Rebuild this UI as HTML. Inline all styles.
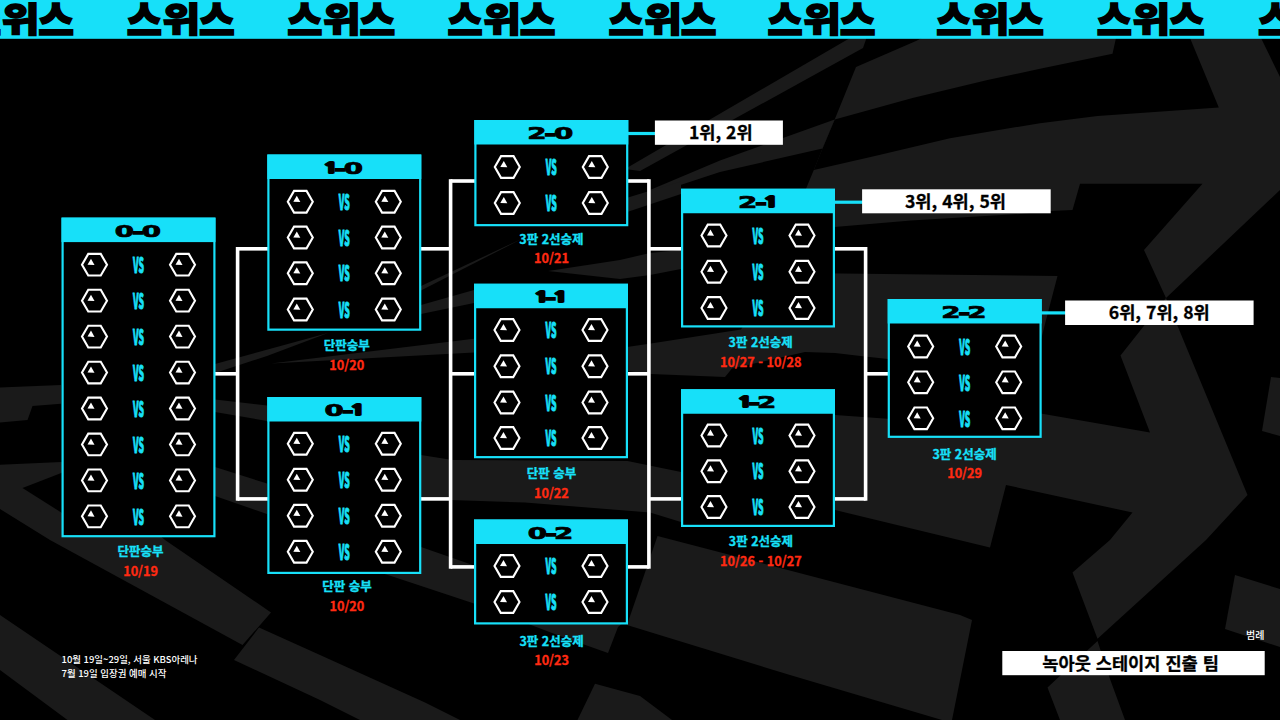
<!DOCTYPE html>
<html lang="ko"><head><meta charset="utf-8"><title>스위스</title>
<style>
html,body{margin:0;padding:0;background:#000;}
body{width:1280px;height:720px;overflow:hidden;position:relative;}
svg{position:absolute;left:0;top:0;display:block;}
.ttl{font-family:"DejaVu Sans","Liberation Sans",sans-serif;font-weight:bold;font-size:16.2px;fill:#000;stroke:#000;stroke-width:1px;stroke-linejoin:round;vector-effect:non-scaling-stroke;}
.ttl tspan{vector-effect:non-scaling-stroke;}
.ttl .hy{stroke-width:1.8px;stroke-linejoin:miter;}
.ttl .one{font-family:"NanumGothic","DejaVu Sans","Liberation Sans",sans-serif;font-weight:800;font-size:13.7px;stroke-width:2.9px;stroke-linejoin:miter;}
.vs{font-family:"Noto Sans CJK KR","Liberation Sans",sans-serif;font-weight:900;font-size:20.6px;fill:#17e0f9;stroke:#17e0f9;stroke-width:0.7px;vector-effect:non-scaling-stroke;}
.cap{font-family:"Noto Sans CJK KR","Liberation Sans",sans-serif;font-weight:700;font-size:12.5px;fill:#17e0f9;stroke:#17e0f9;stroke-width:0.3px;}
.date{font-family:"Noto Sans CJK KR","Liberation Sans",sans-serif;font-weight:700;font-size:12.7px;fill:#ff2a12;stroke:#ff2a12;stroke-width:0.3px;}
.lab{font-family:"Noto Sans CJK KR","Liberation Sans",sans-serif;font-weight:700;font-size:17.6px;fill:#000;stroke:#000;stroke-width:0.3px;}
.hdr text{vector-effect:non-scaling-stroke;}
.hdr{font-family:"Noto Sans CJK KR","Liberation Sans",sans-serif;font-weight:900;font-size:40px;fill:#000;stroke:#000;stroke-width:1.6px;}
.sm{font-family:"Noto Sans CJK KR","Liberation Sans",sans-serif;font-weight:500;font-size:9.45px;fill:#fff;}
</style></head><body>
<svg width="1280" height="720" viewBox="0 0 1280 720">
<rect width="1280" height="720" fill="#000"/>
<g id="bg"><polygon fill="#1a1a1a" points="856.0,67.0 916.0,41.0 922.0,38.0 1261.0,38.0 1280.0,77.0 1280.0,190.0 1166.0,298.0 1144.0,250.0 1202.5,183.8 1080.0,183.8 1072.5,210.0 1050.0,211.0 1020.0,214.0 911.0,220.6 834.4,227.0 790.0,232.0 806.0,188.8 813.8,170.0 822.5,148.5 834.7,119.4"/>
<polygon fill="#000" points="834.7,119.4 912.5,98.0 987.5,80.0 1040.0,68.8 1112.5,53.8 1116.0,38.0 1190.0,38.0 1218.8,107.5 1097.5,116.0 1040.0,123.2 950.0,138.2 875.0,156.0 813.8,170.0 822.5,148.5"/>
<polygon fill="#1a1a1a" points="834.7,119.4 822.5,148.5 720.0,172.0 650.0,195.0 650.0,190.0 720.0,160.5"/>
<polygon fill="#1a1a1a" points="625.0,169.0 850.0,38.0 866.5,38.0 863.0,48.0 640.0,171.0"/>
<polygon fill="#1a1a1a" points="628.0,197.5 628.0,211.7 651.0,204.0 681.0,194.0 681.0,181.5 651.0,190.5"/>
<polygon fill="#1a1a1a" points="1166.0,298.0 1120.5,355.5 1150.0,432.5 1035.0,412.5 1030.0,425.0 887.5,418.8 835.0,415.0 760.0,412.0 750.0,470.0 681.0,472.0 627.5,461.0 452.5,460.0 421.0,455.0 421.0,499.0 525.0,502.5 650.0,512.5 681.0,522.0 700.0,512.0 835.0,510.0 990.0,547.5 1006.0,485.0 1132.5,512.5 1110.0,540.0 1072.5,572.5 1097.5,638.8 1206.0,540.0 1247.5,495.0"/>
<polygon fill="#1a1a1a" points="1235.0,575.0 1280.0,589.0 1280.0,647.0 1225.0,629.0"/>
<polygon fill="#1a1a1a" points="1271.0,377.0 1280.0,378.0 1280.0,436.0 1262.0,431.0"/>
<polygon fill="#1a1a1a" points="1097.5,641.0 1047.5,687.5 1060.0,720.0 1125.0,720.0 1110.0,679.0"/>
<polygon fill="#1a1a1a" points="657.5,536.0 960.0,615.0 972.0,620.0 952.0,720.0 942.0,720.0 790.0,675.0 627.0,625.0"/>
<polygon fill="#1a1a1a" points="380.0,533.0 421.0,547.0 628.0,619.0 618.0,627.0 608.0,653.0 560.0,636.0 474.0,603.5 391.0,576.0 340.0,560.0"/>
<polygon fill="#1a1a1a" points="259.0,627.5 320.0,655.0 425.0,702.5 460.0,720.0 360.0,720.0 320.0,700.0 234.0,660.0"/>
<polygon fill="#1a1a1a" points="0.0,464.7 61.5,462.0 75.0,463.0 165.0,540.0 271.0,612.5 242.5,645.0 50.0,540.0 0.0,509.0"/>
<polygon fill="#000" points="22.5,488.0 100.0,458.0 100.0,537.0"/>
<polygon fill="#1a1a1a" points="0.0,615.0 155.0,720.0 67.5,720.0 0.0,670.0"/>
<polygon fill="#1a1a1a" points="595.0,683.8 640.0,696.0 672.0,720.0 577.5,720.0"/>
<polygon fill="#1a1a1a" points="522.5,238.5 421.0,286.0 421.0,290.5"/>
<polygon fill="#1a1a1a" points="421.0,305.0 474.0,290.0 474.0,303.0 421.0,314.0"/>
<polygon fill="#1a1a1a" points="548.0,271.0 620.0,260.0 650.0,253.0 681.0,250.0 800.0,231.0 834.4,227.0 760.0,255.0 681.0,269.0 650.0,275.0 620.0,279.0"/>
<polygon fill="#1a1a1a" points="627.0,347.0 651.0,343.4 741.0,329.4 760.0,300.0 790.0,273.0 840.0,273.5 1057.5,276.0 1046.0,320.0 1041.0,340.0 888.0,359.0 865.0,356.5 835.0,353.0 805.0,352.0 732.0,368.5 725.0,377.0 651.0,374.0 627.0,371.0"/>
<polygon fill="#1a1a1a" points="0.0,387.5 61.0,385.0 61.0,403.8 32.5,406.0 27.5,420.0 0.0,422.5"/>
<polygon fill="#1a1a1a" points="215.0,364.0 328.0,333.0 267.0,356.0 215.0,373.0"/>
<polygon fill="#1a1a1a" points="271.0,363.4 474.0,338.7 474.0,352.4"/>
<polygon fill="#1a1a1a" points="215.0,467.0 267.0,483.5 267.0,514.0 215.0,496.0"/>
<polygon fill="#1a1a1a" points="215.0,399.5 267.0,405.6 267.0,421.0 215.0,412.0"/></g>
<rect x="0" y="0" width="1280" height="38.8" fill="#17e0f9"/>
<g class="hdr"><text transform="translate(-33.93,35.20) scale(0.955,1.003)">스</text><text transform="translate(1.76,32.22) scale(1.026,0.856)">위</text><text transform="translate(38.25,35.20) scale(0.970,1.003)">스</text></g>
<g class="hdr"><text transform="translate(126.77,35.20) scale(0.955,1.003)">스</text><text transform="translate(162.46,32.22) scale(1.026,0.856)">위</text><text transform="translate(198.95,35.20) scale(0.970,1.003)">스</text></g>
<g class="hdr"><text transform="translate(287.27,35.20) scale(0.955,1.003)">스</text><text transform="translate(322.96,32.22) scale(1.026,0.856)">위</text><text transform="translate(359.45,35.20) scale(0.970,1.003)">스</text></g>
<g class="hdr"><text transform="translate(447.57,35.20) scale(0.955,1.003)">스</text><text transform="translate(483.26,32.22) scale(1.026,0.856)">위</text><text transform="translate(519.75,35.20) scale(0.970,1.003)">스</text></g>
<g class="hdr"><text transform="translate(608.57,35.20) scale(0.955,1.003)">스</text><text transform="translate(644.26,32.22) scale(1.026,0.856)">위</text><text transform="translate(680.75,35.20) scale(0.970,1.003)">스</text></g>
<g class="hdr"><text transform="translate(767.57,35.20) scale(0.955,1.003)">스</text><text transform="translate(803.26,32.22) scale(1.026,0.856)">위</text><text transform="translate(839.75,35.20) scale(0.970,1.003)">스</text></g>
<g class="hdr"><text transform="translate(936.17,35.20) scale(0.955,1.003)">스</text><text transform="translate(971.86,32.22) scale(1.026,0.856)">위</text><text transform="translate(1008.35,35.20) scale(0.970,1.003)">스</text></g>
<g class="hdr"><text transform="translate(1096.77,35.20) scale(0.955,1.003)">스</text><text transform="translate(1132.46,32.22) scale(1.026,0.856)">위</text><text transform="translate(1168.95,35.20) scale(0.970,1.003)">스</text></g>
<g class="hdr"><text transform="translate(1257.97,35.20) scale(0.955,1.003)">스</text><text transform="translate(1293.66,32.22) scale(1.026,0.856)">위</text><text transform="translate(1330.15,35.20) scale(0.970,1.003)">스</text></g>
<rect x="215.00" y="372.00" width="22.60" height="3.60" fill="#ffffff"/>
<rect x="235.80" y="247.00" width="3.60" height="253.70" fill="#ffffff"/>
<rect x="237.60" y="247.00" width="30.40" height="3.60" fill="#ffffff"/>
<rect x="237.60" y="497.10" width="30.40" height="3.60" fill="#ffffff"/>
<rect x="420.00" y="247.00" width="30.60" height="3.60" fill="#ffffff"/>
<rect x="420.00" y="497.10" width="30.60" height="3.60" fill="#ffffff"/>
<rect x="448.80" y="179.20" width="3.60" height="389.50" fill="#ffffff"/>
<rect x="450.60" y="179.20" width="24.40" height="3.60" fill="#ffffff"/>
<rect x="450.60" y="372.00" width="24.40" height="3.60" fill="#ffffff"/>
<rect x="450.60" y="565.10" width="24.40" height="3.60" fill="#ffffff"/>
<rect x="627.00" y="179.20" width="21.90" height="3.60" fill="#ffffff"/>
<rect x="627.00" y="372.00" width="21.90" height="3.60" fill="#ffffff"/>
<rect x="627.00" y="565.10" width="21.90" height="3.60" fill="#ffffff"/>
<rect x="647.10" y="179.20" width="3.60" height="389.50" fill="#ffffff"/>
<rect x="648.90" y="247.00" width="33.10" height="3.60" fill="#ffffff"/>
<rect x="648.90" y="497.10" width="33.10" height="3.60" fill="#ffffff"/>
<rect x="834.00" y="247.00" width="31.60" height="3.60" fill="#ffffff"/>
<rect x="834.00" y="497.10" width="31.60" height="3.60" fill="#ffffff"/>
<rect x="863.80" y="247.00" width="3.60" height="253.70" fill="#ffffff"/>
<rect x="865.60" y="372.00" width="22.90" height="3.60" fill="#ffffff"/>
<rect x="627.00" y="131.90" width="29.00" height="3.20" fill="#17e0f9"/>
<rect x="834.00" y="200.60" width="29.00" height="3.20" fill="#17e0f9"/>
<rect x="1041.00" y="311.30" width="25.00" height="3.20" fill="#17e0f9"/>
<rect x="62.60" y="218.70" width="151.80" height="317.50" fill="#000" stroke="#17e0f9" stroke-width="2.2"/>
<rect x="61.50" y="217.60" width="154.00" height="24.50" fill="#17e0f9"/>
<text class="ttl" transform="translate(0,236.60) scale(1.708,1)"><tspan x="67.22" y="0">0</tspan><tspan class="hy" x="77.46" y="0">-</tspan><tspan x="83.03" y="0">0</tspan></text>
<polygon points="107.00,264.70 100.75,275.53 88.25,275.53 82.00,264.70 88.25,253.87 100.75,253.87" fill="none" stroke="#fff" stroke-width="2.1"/>
<polygon points="91.00,258.70 87.50,264.70 94.50,265.00" fill="#fff"/>
<polygon points="195.00,264.70 188.75,275.53 176.25,275.53 170.00,264.70 176.25,253.87 188.75,253.87" fill="none" stroke="#fff" stroke-width="2.1"/>
<polygon points="179.00,258.70 175.50,264.70 182.50,265.00" fill="#fff"/>
<text class="vs" text-anchor="middle" transform="translate(138.50,272.90) scale(0.418,1)">VS</text>
<polygon points="107.00,300.65 100.75,311.48 88.25,311.48 82.00,300.65 88.25,289.82 100.75,289.82" fill="none" stroke="#fff" stroke-width="2.1"/>
<polygon points="91.00,294.65 87.50,300.65 94.50,300.95" fill="#fff"/>
<polygon points="195.00,300.65 188.75,311.48 176.25,311.48 170.00,300.65 176.25,289.82 188.75,289.82" fill="none" stroke="#fff" stroke-width="2.1"/>
<polygon points="179.00,294.65 175.50,300.65 182.50,300.95" fill="#fff"/>
<text class="vs" text-anchor="middle" transform="translate(138.50,308.85) scale(0.418,1)">VS</text>
<polygon points="107.00,336.60 100.75,347.43 88.25,347.43 82.00,336.60 88.25,325.77 100.75,325.77" fill="none" stroke="#fff" stroke-width="2.1"/>
<polygon points="91.00,330.60 87.50,336.60 94.50,336.90" fill="#fff"/>
<polygon points="195.00,336.60 188.75,347.43 176.25,347.43 170.00,336.60 176.25,325.77 188.75,325.77" fill="none" stroke="#fff" stroke-width="2.1"/>
<polygon points="179.00,330.60 175.50,336.60 182.50,336.90" fill="#fff"/>
<text class="vs" text-anchor="middle" transform="translate(138.50,344.80) scale(0.418,1)">VS</text>
<polygon points="107.00,372.55 100.75,383.38 88.25,383.38 82.00,372.55 88.25,361.72 100.75,361.72" fill="none" stroke="#fff" stroke-width="2.1"/>
<polygon points="91.00,366.55 87.50,372.55 94.50,372.85" fill="#fff"/>
<polygon points="195.00,372.55 188.75,383.38 176.25,383.38 170.00,372.55 176.25,361.72 188.75,361.72" fill="none" stroke="#fff" stroke-width="2.1"/>
<polygon points="179.00,366.55 175.50,372.55 182.50,372.85" fill="#fff"/>
<text class="vs" text-anchor="middle" transform="translate(138.50,380.75) scale(0.418,1)">VS</text>
<polygon points="107.00,408.50 100.75,419.33 88.25,419.33 82.00,408.50 88.25,397.67 100.75,397.67" fill="none" stroke="#fff" stroke-width="2.1"/>
<polygon points="91.00,402.50 87.50,408.50 94.50,408.80" fill="#fff"/>
<polygon points="195.00,408.50 188.75,419.33 176.25,419.33 170.00,408.50 176.25,397.67 188.75,397.67" fill="none" stroke="#fff" stroke-width="2.1"/>
<polygon points="179.00,402.50 175.50,408.50 182.50,408.80" fill="#fff"/>
<text class="vs" text-anchor="middle" transform="translate(138.50,416.70) scale(0.418,1)">VS</text>
<polygon points="107.00,444.45 100.75,455.28 88.25,455.28 82.00,444.45 88.25,433.62 100.75,433.62" fill="none" stroke="#fff" stroke-width="2.1"/>
<polygon points="91.00,438.45 87.50,444.45 94.50,444.75" fill="#fff"/>
<polygon points="195.00,444.45 188.75,455.28 176.25,455.28 170.00,444.45 176.25,433.62 188.75,433.62" fill="none" stroke="#fff" stroke-width="2.1"/>
<polygon points="179.00,438.45 175.50,444.45 182.50,444.75" fill="#fff"/>
<text class="vs" text-anchor="middle" transform="translate(138.50,452.65) scale(0.418,1)">VS</text>
<polygon points="107.00,480.40 100.75,491.23 88.25,491.23 82.00,480.40 88.25,469.57 100.75,469.57" fill="none" stroke="#fff" stroke-width="2.1"/>
<polygon points="91.00,474.40 87.50,480.40 94.50,480.70" fill="#fff"/>
<polygon points="195.00,480.40 188.75,491.23 176.25,491.23 170.00,480.40 176.25,469.57 188.75,469.57" fill="none" stroke="#fff" stroke-width="2.1"/>
<polygon points="179.00,474.40 175.50,480.40 182.50,480.70" fill="#fff"/>
<text class="vs" text-anchor="middle" transform="translate(138.50,488.60) scale(0.418,1)">VS</text>
<polygon points="107.00,516.35 100.75,527.18 88.25,527.18 82.00,516.35 88.25,505.52 100.75,505.52" fill="none" stroke="#fff" stroke-width="2.1"/>
<polygon points="91.00,510.35 87.50,516.35 94.50,516.65" fill="#fff"/>
<polygon points="195.00,516.35 188.75,527.18 176.25,527.18 170.00,516.35 176.25,505.52 188.75,505.52" fill="none" stroke="#fff" stroke-width="2.1"/>
<polygon points="179.00,510.35 175.50,516.35 182.50,516.65" fill="#fff"/>
<text class="vs" text-anchor="middle" transform="translate(138.50,524.55) scale(0.418,1)">VS</text>
<rect x="268.40" y="155.60" width="151.80" height="174.05" fill="#000" stroke="#17e0f9" stroke-width="2.2"/>
<rect x="267.30" y="154.50" width="154.00" height="24.50" fill="#17e0f9"/>
<text class="ttl" transform="translate(0,173.50) scale(1.708,1)"><tspan class="one" x="189.58" y="-0.8">1</tspan><tspan class="hy" x="195.67" y="0">-</tspan><tspan x="201.24" y="0">0</tspan></text>
<polygon points="312.80,201.75 306.55,212.58 294.05,212.58 287.80,201.75 294.05,190.92 306.55,190.92" fill="none" stroke="#fff" stroke-width="2.1"/>
<polygon points="296.80,195.75 293.30,201.75 300.30,202.05" fill="#fff"/>
<polygon points="400.80,201.75 394.55,212.58 382.05,212.58 375.80,201.75 382.05,190.92 394.55,190.92" fill="none" stroke="#fff" stroke-width="2.1"/>
<polygon points="384.80,195.75 381.30,201.75 388.30,202.05" fill="#fff"/>
<text class="vs" text-anchor="middle" transform="translate(344.30,209.95) scale(0.418,1)">VS</text>
<polygon points="312.80,237.50 306.55,248.33 294.05,248.33 287.80,237.50 294.05,226.67 306.55,226.67" fill="none" stroke="#fff" stroke-width="2.1"/>
<polygon points="296.80,231.50 293.30,237.50 300.30,237.80" fill="#fff"/>
<polygon points="400.80,237.50 394.55,248.33 382.05,248.33 375.80,237.50 382.05,226.67 394.55,226.67" fill="none" stroke="#fff" stroke-width="2.1"/>
<polygon points="384.80,231.50 381.30,237.50 388.30,237.80" fill="#fff"/>
<text class="vs" text-anchor="middle" transform="translate(344.30,245.70) scale(0.418,1)">VS</text>
<polygon points="312.80,273.25 306.55,284.08 294.05,284.08 287.80,273.25 294.05,262.42 306.55,262.42" fill="none" stroke="#fff" stroke-width="2.1"/>
<polygon points="296.80,267.25 293.30,273.25 300.30,273.55" fill="#fff"/>
<polygon points="400.80,273.25 394.55,284.08 382.05,284.08 375.80,273.25 382.05,262.42 394.55,262.42" fill="none" stroke="#fff" stroke-width="2.1"/>
<polygon points="384.80,267.25 381.30,273.25 388.30,273.55" fill="#fff"/>
<text class="vs" text-anchor="middle" transform="translate(344.30,281.45) scale(0.418,1)">VS</text>
<polygon points="312.80,309.50 306.55,320.33 294.05,320.33 287.80,309.50 294.05,298.67 306.55,298.67" fill="none" stroke="#fff" stroke-width="2.1"/>
<polygon points="296.80,303.50 293.30,309.50 300.30,309.80" fill="#fff"/>
<polygon points="400.80,309.50 394.55,320.33 382.05,320.33 375.80,309.50 382.05,298.67 394.55,298.67" fill="none" stroke="#fff" stroke-width="2.1"/>
<polygon points="384.80,303.50 381.30,309.50 388.30,309.80" fill="#fff"/>
<text class="vs" text-anchor="middle" transform="translate(344.30,317.70) scale(0.418,1)">VS</text>
<rect x="268.40" y="398.10" width="151.80" height="174.80" fill="#000" stroke="#17e0f9" stroke-width="2.2"/>
<rect x="267.30" y="397.00" width="154.00" height="24.50" fill="#17e0f9"/>
<text class="ttl" transform="translate(0,416.00) scale(1.708,1)"><tspan x="190.00" y="0">0</tspan><tspan class="hy" x="200.24" y="0">-</tspan><tspan class="one" x="205.39" y="-0.8">1</tspan></text>
<polygon points="312.80,443.75 306.55,454.58 294.05,454.58 287.80,443.75 294.05,432.92 306.55,432.92" fill="none" stroke="#fff" stroke-width="2.1"/>
<polygon points="296.80,437.75 293.30,443.75 300.30,444.05" fill="#fff"/>
<polygon points="400.80,443.75 394.55,454.58 382.05,454.58 375.80,443.75 382.05,432.92 394.55,432.92" fill="none" stroke="#fff" stroke-width="2.1"/>
<polygon points="384.80,437.75 381.30,443.75 388.30,444.05" fill="#fff"/>
<text class="vs" text-anchor="middle" transform="translate(344.30,451.95) scale(0.418,1)">VS</text>
<polygon points="312.80,479.75 306.55,490.58 294.05,490.58 287.80,479.75 294.05,468.92 306.55,468.92" fill="none" stroke="#fff" stroke-width="2.1"/>
<polygon points="296.80,473.75 293.30,479.75 300.30,480.05" fill="#fff"/>
<polygon points="400.80,479.75 394.55,490.58 382.05,490.58 375.80,479.75 382.05,468.92 394.55,468.92" fill="none" stroke="#fff" stroke-width="2.1"/>
<polygon points="384.80,473.75 381.30,479.75 388.30,480.05" fill="#fff"/>
<text class="vs" text-anchor="middle" transform="translate(344.30,487.95) scale(0.418,1)">VS</text>
<polygon points="312.80,515.75 306.55,526.58 294.05,526.58 287.80,515.75 294.05,504.92 306.55,504.92" fill="none" stroke="#fff" stroke-width="2.1"/>
<polygon points="296.80,509.75 293.30,515.75 300.30,516.05" fill="#fff"/>
<polygon points="400.80,515.75 394.55,526.58 382.05,526.58 375.80,515.75 382.05,504.92 394.55,504.92" fill="none" stroke="#fff" stroke-width="2.1"/>
<polygon points="384.80,509.75 381.30,515.75 388.30,516.05" fill="#fff"/>
<text class="vs" text-anchor="middle" transform="translate(344.30,523.95) scale(0.418,1)">VS</text>
<polygon points="312.80,551.75 306.55,562.58 294.05,562.58 287.80,551.75 294.05,540.92 306.55,540.92" fill="none" stroke="#fff" stroke-width="2.1"/>
<polygon points="296.80,545.75 293.30,551.75 300.30,552.05" fill="#fff"/>
<polygon points="400.80,551.75 394.55,562.58 382.05,562.58 375.80,551.75 382.05,540.92 394.55,540.92" fill="none" stroke="#fff" stroke-width="2.1"/>
<polygon points="384.80,545.75 381.30,551.75 388.30,552.05" fill="#fff"/>
<text class="vs" text-anchor="middle" transform="translate(344.30,559.95) scale(0.418,1)">VS</text>
<rect x="475.40" y="121.10" width="151.80" height="104.05" fill="#000" stroke="#17e0f9" stroke-width="2.2"/>
<rect x="474.30" y="120.00" width="154.00" height="24.50" fill="#17e0f9"/>
<text class="ttl" transform="translate(0,139.00) scale(1.708,1)"><tspan x="308.74" y="0">2</tspan><tspan class="hy" x="318.83" y="0">-</tspan><tspan x="324.39" y="0">0</tspan></text>
<polygon points="519.80,167.00 513.55,177.83 501.05,177.83 494.80,167.00 501.05,156.17 513.55,156.17" fill="none" stroke="#fff" stroke-width="2.1"/>
<polygon points="503.80,161.00 500.30,167.00 507.30,167.30" fill="#fff"/>
<polygon points="607.80,167.00 601.55,177.83 589.05,177.83 582.80,167.00 589.05,156.17 601.55,156.17" fill="none" stroke="#fff" stroke-width="2.1"/>
<polygon points="591.80,161.00 588.30,167.00 595.30,167.30" fill="#fff"/>
<text class="vs" text-anchor="middle" transform="translate(551.30,175.20) scale(0.418,1)">VS</text>
<polygon points="519.80,203.00 513.55,213.83 501.05,213.83 494.80,203.00 501.05,192.17 513.55,192.17" fill="none" stroke="#fff" stroke-width="2.1"/>
<polygon points="503.80,197.00 500.30,203.00 507.30,203.30" fill="#fff"/>
<polygon points="607.80,203.00 601.55,213.83 589.05,213.83 582.80,203.00 589.05,192.17 601.55,192.17" fill="none" stroke="#fff" stroke-width="2.1"/>
<polygon points="591.80,197.00 588.30,203.00 595.30,203.30" fill="#fff"/>
<text class="vs" text-anchor="middle" transform="translate(551.30,211.20) scale(0.418,1)">VS</text>
<rect x="475.10" y="284.85" width="151.80" height="172.30" fill="#000" stroke="#17e0f9" stroke-width="2.2"/>
<rect x="474.00" y="283.75" width="154.00" height="24.50" fill="#17e0f9"/>
<text class="ttl" transform="translate(0,302.75) scale(1.708,1)"><tspan class="one" x="312.89" y="-0.8">1</tspan><tspan class="hy" x="318.97" y="0">-</tspan><tspan class="one" x="324.13" y="-0.8">1</tspan></text>
<polygon points="519.50,330.00 513.25,340.83 500.75,340.83 494.50,330.00 500.75,319.17 513.25,319.17" fill="none" stroke="#fff" stroke-width="2.1"/>
<polygon points="503.50,324.00 500.00,330.00 507.00,330.30" fill="#fff"/>
<polygon points="607.50,330.00 601.25,340.83 588.75,340.83 582.50,330.00 588.75,319.17 601.25,319.17" fill="none" stroke="#fff" stroke-width="2.1"/>
<polygon points="591.50,324.00 588.00,330.00 595.00,330.30" fill="#fff"/>
<text class="vs" text-anchor="middle" transform="translate(551.00,338.20) scale(0.418,1)">VS</text>
<polygon points="519.50,366.25 513.25,377.08 500.75,377.08 494.50,366.25 500.75,355.42 513.25,355.42" fill="none" stroke="#fff" stroke-width="2.1"/>
<polygon points="503.50,360.25 500.00,366.25 507.00,366.55" fill="#fff"/>
<polygon points="607.50,366.25 601.25,377.08 588.75,377.08 582.50,366.25 588.75,355.42 601.25,355.42" fill="none" stroke="#fff" stroke-width="2.1"/>
<polygon points="591.50,360.25 588.00,366.25 595.00,366.55" fill="#fff"/>
<text class="vs" text-anchor="middle" transform="translate(551.00,374.45) scale(0.418,1)">VS</text>
<polygon points="519.50,402.50 513.25,413.33 500.75,413.33 494.50,402.50 500.75,391.67 513.25,391.67" fill="none" stroke="#fff" stroke-width="2.1"/>
<polygon points="503.50,396.50 500.00,402.50 507.00,402.80" fill="#fff"/>
<polygon points="607.50,402.50 601.25,413.33 588.75,413.33 582.50,402.50 588.75,391.67 601.25,391.67" fill="none" stroke="#fff" stroke-width="2.1"/>
<polygon points="591.50,396.50 588.00,402.50 595.00,402.80" fill="#fff"/>
<text class="vs" text-anchor="middle" transform="translate(551.00,410.70) scale(0.418,1)">VS</text>
<polygon points="519.50,438.00 513.25,448.83 500.75,448.83 494.50,438.00 500.75,427.17 513.25,427.17" fill="none" stroke="#fff" stroke-width="2.1"/>
<polygon points="503.50,432.00 500.00,438.00 507.00,438.30" fill="#fff"/>
<polygon points="607.50,438.00 601.25,448.83 588.75,448.83 582.50,438.00 588.75,427.17 601.25,427.17" fill="none" stroke="#fff" stroke-width="2.1"/>
<polygon points="591.50,432.00 588.00,438.00 595.00,438.30" fill="#fff"/>
<text class="vs" text-anchor="middle" transform="translate(551.00,446.20) scale(0.418,1)">VS</text>
<rect x="475.10" y="520.60" width="151.80" height="102.80" fill="#000" stroke="#17e0f9" stroke-width="2.2"/>
<rect x="474.00" y="519.50" width="154.00" height="24.50" fill="#17e0f9"/>
<text class="ttl" transform="translate(0,538.50) scale(1.708,1)"><tspan x="309.06" y="0">0</tspan><tspan class="hy" x="319.29" y="0">-</tspan><tspan x="324.38" y="0">2</tspan></text>
<polygon points="519.50,566.00 513.25,576.83 500.75,576.83 494.50,566.00 500.75,555.17 513.25,555.17" fill="none" stroke="#fff" stroke-width="2.1"/>
<polygon points="503.50,560.00 500.00,566.00 507.00,566.30" fill="#fff"/>
<polygon points="607.50,566.00 601.25,576.83 588.75,576.83 582.50,566.00 588.75,555.17 601.25,555.17" fill="none" stroke="#fff" stroke-width="2.1"/>
<polygon points="591.50,560.00 588.00,566.00 595.00,566.30" fill="#fff"/>
<text class="vs" text-anchor="middle" transform="translate(551.00,574.20) scale(0.418,1)">VS</text>
<polygon points="519.50,602.00 513.25,612.83 500.75,612.83 494.50,602.00 500.75,591.17 513.25,591.17" fill="none" stroke="#fff" stroke-width="2.1"/>
<polygon points="503.50,596.00 500.00,602.00 507.00,602.30" fill="#fff"/>
<polygon points="607.50,602.00 601.25,612.83 588.75,612.83 582.50,602.00 588.75,591.17 601.25,591.17" fill="none" stroke="#fff" stroke-width="2.1"/>
<polygon points="591.50,596.00 588.00,602.00 595.00,602.30" fill="#fff"/>
<text class="vs" text-anchor="middle" transform="translate(551.00,610.20) scale(0.418,1)">VS</text>
<rect x="682.10" y="189.85" width="151.80" height="136.55" fill="#000" stroke="#17e0f9" stroke-width="2.2"/>
<rect x="681.00" y="188.75" width="154.00" height="24.50" fill="#17e0f9"/>
<text class="ttl" transform="translate(0,207.75) scale(1.708,1)"><tspan x="432.05" y="0">2</tspan><tspan class="hy" x="442.13" y="0">-</tspan><tspan class="one" x="447.28" y="-0.8">1</tspan></text>
<polygon points="726.50,235.50 720.25,246.33 707.75,246.33 701.50,235.50 707.75,224.67 720.25,224.67" fill="none" stroke="#fff" stroke-width="2.1"/>
<polygon points="710.50,229.50 707.00,235.50 714.00,235.80" fill="#fff"/>
<polygon points="814.50,235.50 808.25,246.33 795.75,246.33 789.50,235.50 795.75,224.67 808.25,224.67" fill="none" stroke="#fff" stroke-width="2.1"/>
<polygon points="798.50,229.50 795.00,235.50 802.00,235.80" fill="#fff"/>
<text class="vs" text-anchor="middle" transform="translate(758.00,243.70) scale(0.418,1)">VS</text>
<polygon points="726.50,271.75 720.25,282.58 707.75,282.58 701.50,271.75 707.75,260.92 720.25,260.92" fill="none" stroke="#fff" stroke-width="2.1"/>
<polygon points="710.50,265.75 707.00,271.75 714.00,272.05" fill="#fff"/>
<polygon points="814.50,271.75 808.25,282.58 795.75,282.58 789.50,271.75 795.75,260.92 808.25,260.92" fill="none" stroke="#fff" stroke-width="2.1"/>
<polygon points="798.50,265.75 795.00,271.75 802.00,272.05" fill="#fff"/>
<text class="vs" text-anchor="middle" transform="translate(758.00,279.95) scale(0.418,1)">VS</text>
<polygon points="726.50,308.00 720.25,318.83 707.75,318.83 701.50,308.00 707.75,297.17 720.25,297.17" fill="none" stroke="#fff" stroke-width="2.1"/>
<polygon points="710.50,302.00 707.00,308.00 714.00,308.30" fill="#fff"/>
<polygon points="814.50,308.00 808.25,318.83 795.75,318.83 789.50,308.00 795.75,297.17 808.25,297.17" fill="none" stroke="#fff" stroke-width="2.1"/>
<polygon points="798.50,302.00 795.00,308.00 802.00,308.30" fill="#fff"/>
<text class="vs" text-anchor="middle" transform="translate(758.00,316.20) scale(0.418,1)">VS</text>
<rect x="682.10" y="390.35" width="151.80" height="135.55" fill="#000" stroke="#17e0f9" stroke-width="2.2"/>
<rect x="681.00" y="389.25" width="154.00" height="24.50" fill="#17e0f9"/>
<text class="ttl" transform="translate(0,408.25) scale(1.708,1)"><tspan class="one" x="432.12" y="-0.8">1</tspan><tspan class="hy" x="438.20" y="0">-</tspan><tspan x="443.29" y="0">2</tspan></text>
<polygon points="726.50,435.50 720.25,446.33 707.75,446.33 701.50,435.50 707.75,424.67 720.25,424.67" fill="none" stroke="#fff" stroke-width="2.1"/>
<polygon points="710.50,429.50 707.00,435.50 714.00,435.80" fill="#fff"/>
<polygon points="814.50,435.50 808.25,446.33 795.75,446.33 789.50,435.50 795.75,424.67 808.25,424.67" fill="none" stroke="#fff" stroke-width="2.1"/>
<polygon points="798.50,429.50 795.00,435.50 802.00,435.80" fill="#fff"/>
<text class="vs" text-anchor="middle" transform="translate(758.00,443.70) scale(0.418,1)">VS</text>
<polygon points="726.50,471.25 720.25,482.08 707.75,482.08 701.50,471.25 707.75,460.42 720.25,460.42" fill="none" stroke="#fff" stroke-width="2.1"/>
<polygon points="710.50,465.25 707.00,471.25 714.00,471.55" fill="#fff"/>
<polygon points="814.50,471.25 808.25,482.08 795.75,482.08 789.50,471.25 795.75,460.42 808.25,460.42" fill="none" stroke="#fff" stroke-width="2.1"/>
<polygon points="798.50,465.25 795.00,471.25 802.00,471.55" fill="#fff"/>
<text class="vs" text-anchor="middle" transform="translate(758.00,479.45) scale(0.418,1)">VS</text>
<polygon points="726.50,507.00 720.25,517.83 707.75,517.83 701.50,507.00 707.75,496.17 720.25,496.17" fill="none" stroke="#fff" stroke-width="2.1"/>
<polygon points="710.50,501.00 707.00,507.00 714.00,507.30" fill="#fff"/>
<polygon points="814.50,507.00 808.25,517.83 795.75,517.83 789.50,507.00 795.75,496.17 808.25,496.17" fill="none" stroke="#fff" stroke-width="2.1"/>
<polygon points="798.50,501.00 795.00,507.00 802.00,507.30" fill="#fff"/>
<text class="vs" text-anchor="middle" transform="translate(758.00,515.20) scale(0.418,1)">VS</text>
<rect x="888.80" y="300.10" width="151.80" height="136.70" fill="#000" stroke="#17e0f9" stroke-width="2.2"/>
<rect x="887.70" y="299.00" width="154.00" height="24.50" fill="#17e0f9"/>
<text class="ttl" transform="translate(0,318.00) scale(1.708,1)"><tspan x="551.10" y="0">2</tspan><tspan class="hy" x="561.19" y="0">-</tspan><tspan x="566.27" y="0">2</tspan></text>
<polygon points="933.20,346.50 926.95,357.33 914.45,357.33 908.20,346.50 914.45,335.67 926.95,335.67" fill="none" stroke="#fff" stroke-width="2.1"/>
<polygon points="917.20,340.50 913.70,346.50 920.70,346.80" fill="#fff"/>
<polygon points="1021.20,346.50 1014.95,357.33 1002.45,357.33 996.20,346.50 1002.45,335.67 1014.95,335.67" fill="none" stroke="#fff" stroke-width="2.1"/>
<polygon points="1005.20,340.50 1001.70,346.50 1008.70,346.80" fill="#fff"/>
<text class="vs" text-anchor="middle" transform="translate(964.70,354.70) scale(0.418,1)">VS</text>
<polygon points="933.20,382.30 926.95,393.13 914.45,393.13 908.20,382.30 914.45,371.47 926.95,371.47" fill="none" stroke="#fff" stroke-width="2.1"/>
<polygon points="917.20,376.30 913.70,382.30 920.70,382.60" fill="#fff"/>
<polygon points="1021.20,382.30 1014.95,393.13 1002.45,393.13 996.20,382.30 1002.45,371.47 1014.95,371.47" fill="none" stroke="#fff" stroke-width="2.1"/>
<polygon points="1005.20,376.30 1001.70,382.30 1008.70,382.60" fill="#fff"/>
<text class="vs" text-anchor="middle" transform="translate(964.70,390.50) scale(0.418,1)">VS</text>
<polygon points="933.20,418.30 926.95,429.13 914.45,429.13 908.20,418.30 914.45,407.47 926.95,407.47" fill="none" stroke="#fff" stroke-width="2.1"/>
<polygon points="917.20,412.30 913.70,418.30 920.70,418.60" fill="#fff"/>
<polygon points="1021.20,418.30 1014.95,429.13 1002.45,429.13 996.20,418.30 1002.45,407.47 1014.95,407.47" fill="none" stroke="#fff" stroke-width="2.1"/>
<polygon points="1005.20,412.30 1001.70,418.30 1008.70,418.60" fill="#fff"/>
<text class="vs" text-anchor="middle" transform="translate(964.70,426.50) scale(0.418,1)">VS</text>
<text class="cap" text-anchor="middle" x="140.6" y="556.2">단판승부</text>
<text class="date" text-anchor="middle" x="140.6" y="575.6">10/19</text>
<text class="cap" text-anchor="middle" x="346.7" y="349.9">단판승부</text>
<text class="date" text-anchor="middle" x="346.7" y="370.0">10/20</text>
<text class="cap" text-anchor="middle" x="346.9" y="591.2">단판 승부</text>
<text class="date" text-anchor="middle" x="346.9" y="610.7">10/20</text>
<text class="cap" text-anchor="middle" x="551.5" y="243.7">3판 2선승제</text>
<text class="date" text-anchor="middle" x="551.5" y="262.8">10/21</text>
<text class="cap" text-anchor="middle" x="551.4" y="478.3">단판 승부</text>
<text class="date" text-anchor="middle" x="551.4" y="498.2">10/22</text>
<text class="cap" text-anchor="middle" x="551.6" y="645.6">3판 2선승제</text>
<text class="date" text-anchor="middle" x="551.6" y="664.8">10/23</text>
<text class="cap" text-anchor="middle" x="760.7" y="347.3">3판 2선승제</text>
<text class="date" text-anchor="middle" x="760.7" y="366.8">10/27 - 10/28</text>
<text class="cap" text-anchor="middle" x="760.9" y="546.2">3판 2선승제</text>
<text class="date" text-anchor="middle" x="760.9" y="565.7">10/26 - 10/27</text>
<text class="cap" text-anchor="middle" x="964.6" y="458.7">3판 2선승제</text>
<text class="date" text-anchor="middle" x="964.6" y="478.2">10/29</text>
<rect x="654.9" y="120.5" width="128.0" height="24.3" fill="#fff"/>
<text class="lab" text-anchor="middle" x="720.8" y="138.6">1위, 2위</text>
<rect x="862.1" y="189.3" width="188.6" height="24.0" fill="#fff"/>
<text class="lab" text-anchor="middle" x="955.5" y="208.3">3위, 4위, 5위</text>
<rect x="1065.1" y="300.5" width="188.5" height="24.5" fill="#fff"/>
<text class="lab" text-anchor="middle" x="1159.3" y="319.4">6위, 7위, 8위</text>
<rect x="1002.3" y="651.0" width="262.4" height="24.2" fill="#fff"/>
<text class="lab" text-anchor="middle" x="1130.6" y="669.8">녹아웃 스테이지 진출 팀</text>
<text class="sm" style="font-size:10px" text-anchor="end" x="1264.5" y="638.6">범례</text>
<text class="sm" x="61.5" y="662.8">10월 19일~29일, 서울 KBS아레나</text>
<text class="sm" x="61.5" y="677.2">7월 19일 입장권 예매 시작</text>
</svg>
</body></html>
